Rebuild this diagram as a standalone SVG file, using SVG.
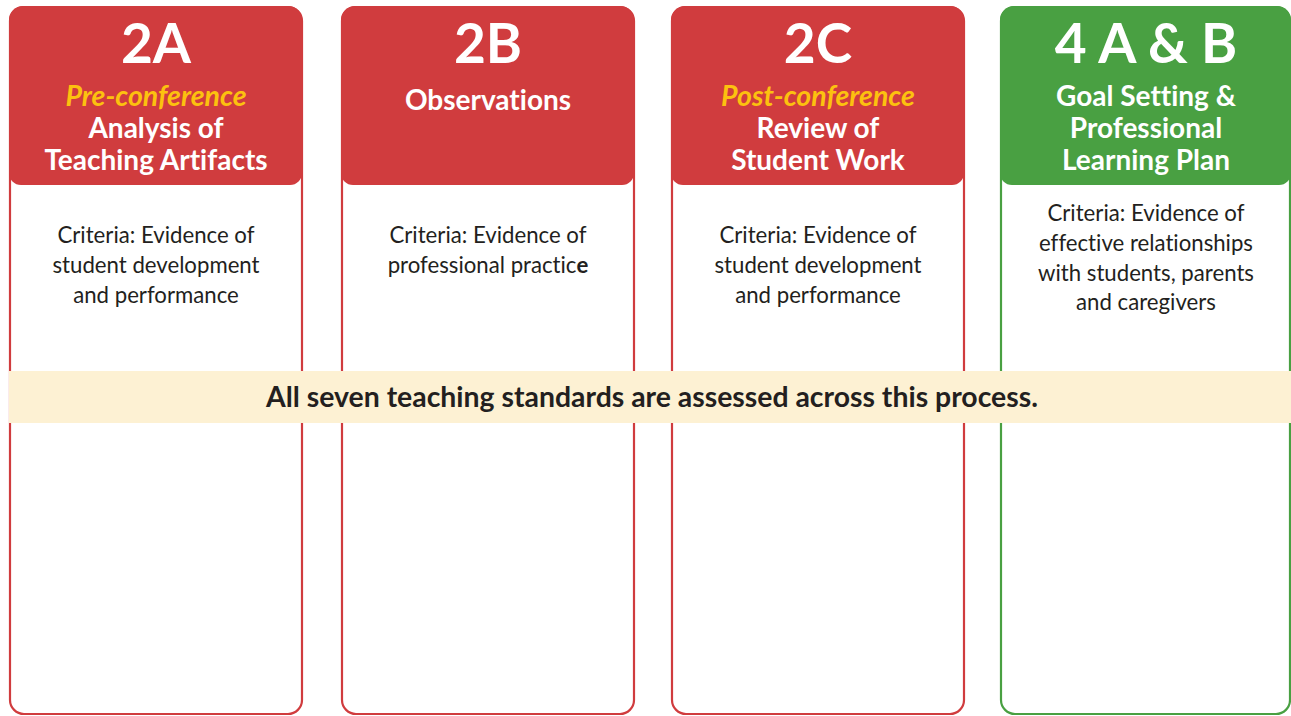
<svg xmlns="http://www.w3.org/2000/svg" width="1291" height="716" viewBox="0 0 1291 716">
<style>
.body{fill:#fff;stroke-width:2.2}
.red .body{stroke:#d03c3e}
.green .body{stroke:#49a042}
.red .head{fill:#d03c3e}
.green .head{fill:#49a042}
text{font-family:Lato,"Open Sans",sans-serif;text-anchor:middle;font-variant-ligatures:none;font-feature-settings:"liga" 0,"dlig" 0}
.num{font-size:55px;font-weight:700;fill:#fff}
.ttl{font-size:28px;font-weight:700;fill:#fff}
.pre{font-size:28.5px;font-weight:700;font-style:italic;fill:#fcc10f}
.crit{font-size:22.2px;fill:#231f20}
.ban{font-size:28.4px;font-weight:700;fill:#231f20}
</style>
<rect width="1291" height="716" fill="#fff"/>
<g id="card-2a" class="red">
<rect class="body" x="10" y="7" width="292" height="707" rx="14"/>
<path class="head" d="M9 20a14 14 0 0 1 14-14h265a14 14 0 0 1 14 14v153a12 12 0 0 1-12 12h-269a12 12 0 0 1-12-12z"/>
<text class="num" x="156" y="63">2A</text>
<text class="pre" x="156" y="106">Pre-conference</text>
<text class="ttl" x="156" y="138">Analysis of</text>
<text class="ttl" x="156" y="170">Teaching Artifacts</text>
<text class="crit" x="156" y="243">Criteria: Evidence of</text>
<text class="crit" x="156" y="273">student development</text>
<text class="crit" x="156" y="303">and performance</text>
</g>
<g id="card-2b" class="red">
<rect class="body" x="342" y="7" width="292" height="707" rx="14"/>
<path class="head" d="M341 20a14 14 0 0 1 14-14h265a14 14 0 0 1 14 14v153a12 12 0 0 1-12 12h-269a12 12 0 0 1-12-12z"/>
<text class="num" x="488" y="63">2B</text>
<text class="ttl" x="488" y="110">Observations</text>
<text class="crit" x="488" y="243">Criteria: Evidence of</text>
<text class="crit" x="488" y="273">professional practic<tspan font-weight="700">e</tspan></text>
</g>
<g id="card-2c" class="red">
<rect class="body" x="672" y="7" width="292" height="707" rx="14"/>
<path class="head" d="M671 20a14 14 0 0 1 14-14h265a14 14 0 0 1 14 14v153a12 12 0 0 1-12 12h-269a12 12 0 0 1-12-12z"/>
<text class="num" x="818" y="63">2C</text>
<text class="pre" x="818" y="106">Post-conference</text>
<text class="ttl" x="818" y="138">Review of</text>
<text class="ttl" x="818" y="170">Student Work</text>
<text class="crit" x="818" y="243">Criteria: Evidence of</text>
<text class="crit" x="818" y="273">student development</text>
<text class="crit" x="818" y="303">and performance</text>
</g>
<g id="card-4ab" class="green">
<rect class="body" x="1001" y="7" width="289" height="707" rx="14"/>
<path class="head" d="M1000 20a14 14 0 0 1 14-14h263a14 14 0 0 1 14 14v153a12 12 0 0 1-12 12h-267a12 12 0 0 1-12-12z"/>
<text class="num" x="1146" y="63">4 A &amp; B</text>
<text class="ttl" x="1146" y="106">Goal Setting &amp;</text>
<text class="ttl" x="1146" y="138">Professional</text>
<text class="ttl" x="1146" y="170">Learning Plan</text>
<text class="crit" x="1146" y="221">Criteria: Evidence of</text>
<text class="crit" x="1146" y="251">effective relationships</text>
<text class="crit" x="1146" y="281">with students, parents</text>
<text class="crit" x="1146" y="310">and caregivers</text>
</g>
<g id="banner">
<rect x="9" y="371" width="1282" height="52" fill="#fdf1d3"/>
<text class="ban" x="652" y="407">All seven teaching standards are assessed across this process.</text>
</g>
<g id="connectors"/>
</svg>
